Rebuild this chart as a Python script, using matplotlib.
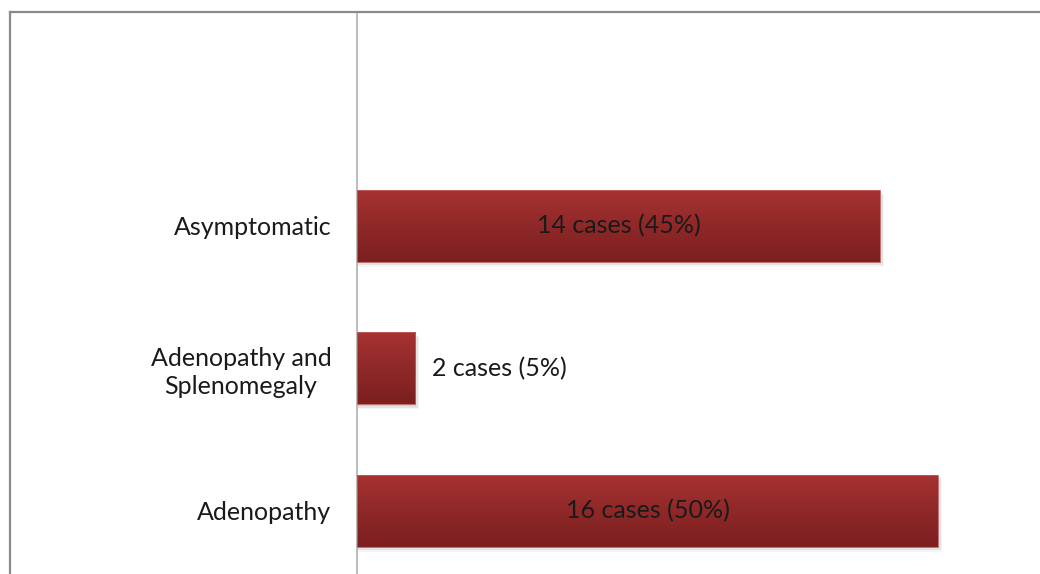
import numpy as np
import matplotlib.pyplot as plt
from matplotlib.lines import Line2D
from matplotlib.patches import Rectangle
from matplotlib.colors import LinearSegmentedColormap

categories = ["Adenopathy", "Adenopathy and\nSplenomegaly", "Asymptomatic"]
cases = [16, 2, 14]
percents = [50, 5, 45]

plt.rcParams['font.family'] = ['Lato', 'DejaVu Sans']

W, H = 1040, 574
fig = plt.figure(figsize=(W / 100, H / 100), dpi=100)

# axes: y-axis at x=357px, top at 12px, bottom slightly below the image
left = 357 / W
ax = fig.add_axes([left, 1 - 582 / H, 1 - left, 570 / H])

ypos = np.arange(len(categories))
bars = ax.barh(ypos, percents, height=0.505, color='none', zorder=3)

grad = LinearSegmentedColormap.from_list('bar', ['#7c1f1f', '#8f2828', '#a83232'])
g = np.linspace(0, 1, 256).reshape(-1, 1)

for b in bars:
    x0, y0 = b.get_x(), b.get_y()
    w, h = b.get_width(), b.get_height()
    # soft shadow
    for k, a in enumerate([0.10, 0.07, 0.04]):
        off = 0.012 * (k + 1)
        ax.add_patch(Rectangle((x0, y0 - off), w + 0.12 * (k + 1), h,
                               facecolor='#000000', alpha=a, edgecolor='none', zorder=1))
    im = ax.imshow(g, cmap=grad, aspect='auto', origin='lower',
                   extent=[x0, x0 + w, y0, y0 + h], zorder=4)
    clip = Rectangle((x0, y0), w, h, transform=ax.transData)
    im.set_clip_path(clip)
    ax.add_patch(Rectangle((x0, y0), w, h, facecolor='none',
                           edgecolor='#c06060', linewidth=0.6, zorder=5))

for y, c, p in zip(ypos, cases, percents):
    txt = f"{c} cases ({p}%)"
    if p > 10:
        ax.text(p / 2, y, txt, ha='center', va='center', fontsize=18,
                color='#1a1a1a', zorder=6)
    else:
        ax.text(p + 1.45, y, txt, ha='left', va='center', fontsize=18,
                color='#1a1a1a', zorder=6)

ax.set_xlim(0, (W - 357) / 11.62)
ax.set_ylim(-0.5, 3.5)
ax.set_yticks(ypos)
ax.set_yticklabels(categories, fontsize=18, color='#1a1a1a', linespacing=1.25,
                   multialignment='center')
ax.tick_params(axis='y', length=0, pad=18.5)
ax.tick_params(axis='x', bottom=False, labelbottom=False)
for s in ['top', 'right', 'bottom']:
    ax.spines[s].set_visible(False)
ax.spines['left'].set_color('#b0b0b0')
ax.spines['left'].set_linewidth(1.2)

# outer chart frame
fig.add_artist(Line2D([10 / W, 1], [1 - 12 / H, 1 - 12 / H], color='#8a8a8a',
                      linewidth=1.6, transform=fig.transFigure))
fig.add_artist(Line2D([10 / W, 10 / W], [0, 1 - 12 / H], color='#8a8a8a',
                      linewidth=1.6, transform=fig.transFigure))

fig.savefig('out.png', dpi=100)
